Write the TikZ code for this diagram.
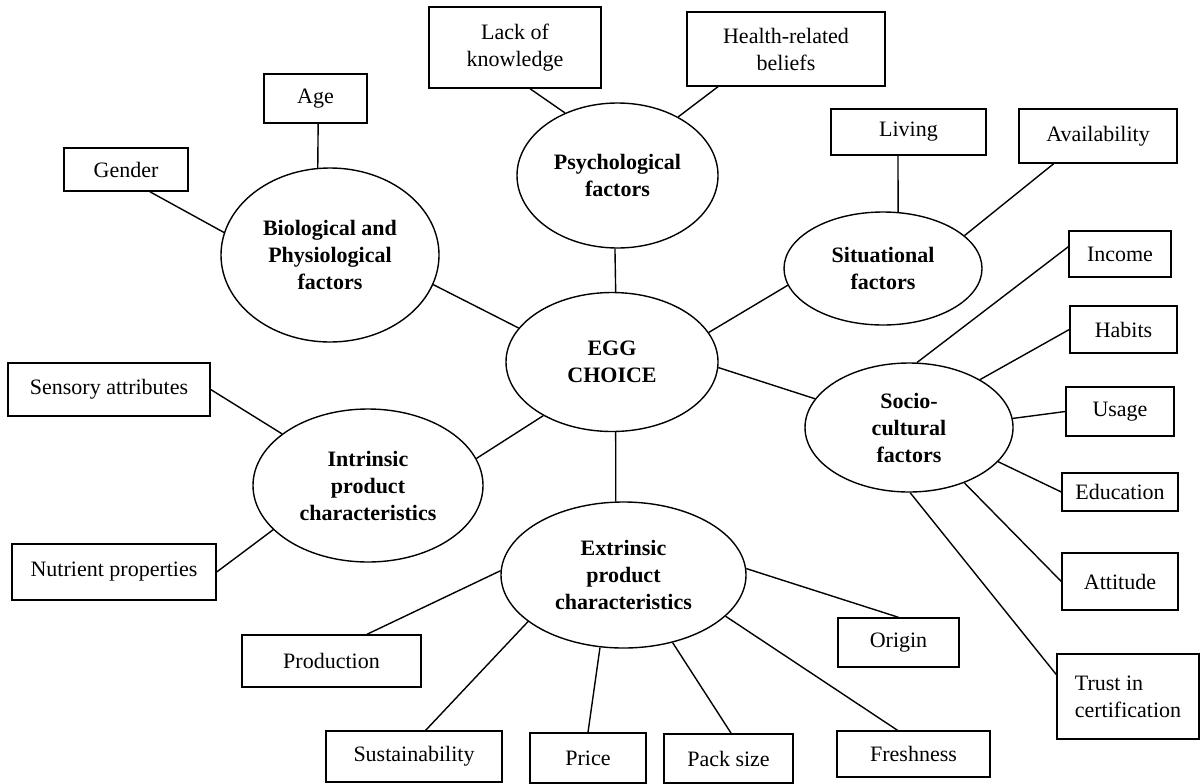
\documentclass[tikz,border=0pt]{standalone}
\usepackage{fontspec}
\setmainfont{Liberation Serif}
\usetikzlibrary{shapes.geometric}

\begin{document}
\begin{tikzpicture}[
  x=0.5bp, y=-0.5bp,
  font=\fontsize{11bp}{13.5bp}\selectfont,
  factor/.style ={draw, ellipse, align=center, inner sep=0pt, line width=0.7pt,
                  font=\fontsize{11bp}{13.5bp}\selectfont\bfseries},
  item/.style   ={draw, rectangle, align=center, inner sep=0pt, line width=0.7pt},
  link/.style   ={line width=0.7pt}
]
\useasboundingbox (0,0) rectangle (1202,783);

% --- factor ellipses ---
\node[factor, minimum width=106bp,   minimum height=69.5bp] (egg)    at (612,362)     {EGG\\CHOICE};
\node[factor, minimum width=100.5bp, minimum height=72.5bp] (psych)  at (617.5,175.5) {Psychological\\factors};
\node[factor, minimum width=109bp,   minimum height=87bp]   (bio)    at (330,255)     {Biological and\\Physiological\\factors};
\node[factor, minimum width=99bp,    minimum height=56.5bp] (sit)    at (883,268.5)   {Situational\\factors};
\node[factor, minimum width=104bp,   minimum height=64.5bp] (socio)  at (909,427.5)   {Socio-\\cultural\\factors};
\node[factor, minimum width=115bp,   minimum height=76.5bp] (intr)   at (368,485.5)   {Intrinsic\\product\\characteristics};
\node[factor, minimum width=122.5bp, minimum height=73bp]   (extr)   at (623.5,575)   {Extrinsic\\product\\characteristics};

% --- item boxes ---
\node[item, minimum width=86bp, minimum height=40.5bp] (lack)    at (515,47.5)    {Lack of\\knowledge};
\node[item, minimum width=99bp, minimum height=37bp]   (health)  at (786,49)      {Health-related\\beliefs};
\node[item, minimum width=51.5bp, minimum height=24.5bp] (age)   at (315.5,98.5)  {Age};
\node[item, minimum width=62bp, minimum height=21.5bp] (gender)  at (126,169.5)   {Gender};
\node[item, minimum width=77.5bp, minimum height=23bp] (living)  at (908.5,132)   {Living};
\node[item, minimum width=79bp, minimum height=27bp]   (avail)   at (1098,136)    {Availability};
\node[item, minimum width=51bp, minimum height=23bp]   (income)  at (1120,254)    {Income};
\node[item, minimum width=53.5bp, minimum height=23.5bp] (habits) at (1123.5,329.5) {Habits};
\node[item, minimum width=54bp, minimum height=24.5bp] (usage)   at (1120,411.5)  {Usage};
\node[item, minimum width=58bp, minimum height=19bp]   (educ)    at (1120,492)    {Education};
\node[item, minimum width=58bp, minimum height=28.5bp] (attit)   at (1120,581.5)  {Attitude};
\node[item, minimum width=71bp, minimum height=42.5bp, align=left] (trust) at (1128,696.5) {Trust in\\certification};
\node[item, minimum width=101bp, minimum height=26.5bp] (sensory) at (109,389.5)  {Sensory attributes};
\node[item, minimum width=102bp, minimum height=28bp]  (nutrient) at (114,572)    {Nutrient properties};
\node[item, minimum width=89.5bp, minimum height=26bp] (prod)    at (331.5,661)   {Production};
\node[item, minimum width=88bp, minimum height=25.5bp] (sustain) at (414,756.5)   {Sustainability};
\node[item, minimum width=58bp, minimum height=25bp]   (price)   at (588,758)     {Price};
\node[item, minimum width=64.5bp, minimum height=24.5bp] (pack)  at (728.5,758.5) {Pack size};
\node[item, minimum width=60.5bp, minimum height=24.5bp] (origin) at (898.5,642.5) {Origin};
\node[item, minimum width=76.5bp, minimum height=23bp] (fresh)   at (913.5,754)   {Freshness};

% --- links to the centre ---
\draw[link] (psych.-92)  -- (egg.87.5);
\draw[link] (bio.-16)    -- (egg.160);
\draw[link] (sit.190)    -- (egg.17);
\draw[link] (egg.-3)     -- (socio.163.5);
\draw[link] (intr.14)    -- (egg.-142.6);
\draw[link] (egg.-87.5)  -- (extr.96.6);

% --- links to the items ---
\draw[link] (lack.-70)    -- (psych.130);
\draw[link] (health.-151) -- (psych.44);
\draw[link] (age.-84)     -- (bio.98);
\draw[link] (gender.-43)  -- (bio.168.3);
\draw[link] (living.-114.5) -- (sit.75);
\draw[link] (avail.-148)  -- (sit.22.2);
\draw[link] (income.172.3) -- (socio.83.8);
\draw[link] (habits.west) -- (socio.34.3);
\draw[link] (usage.west)  -- (socio.5.2);
\draw[link] (educ.west)   -- (socio.-21.3);
\draw[link] (attit.west)  -- (socio.-45.3);
\draw[link] (trust.163.9) -- (socio.-89.1);
\draw[link] (sensory.east)  -- (intr.149.9);
\draw[link] (nutrient.east) -- (intr.-155.1);
\draw[link] (prod.37.8)   -- (extr.178.6);
\draw[link] (sustain.66.7) -- (extr.-154.3);
\draw[link] (price.north) -- (extr.-108.6);
\draw[link] (pack.84.2)   -- (extr.-54.5);
\draw[link] (fresh.124)   -- (extr.-22.3);
\draw[link] (origin.north) -- (extr.3.3);

\end{tikzpicture}
\end{document}
